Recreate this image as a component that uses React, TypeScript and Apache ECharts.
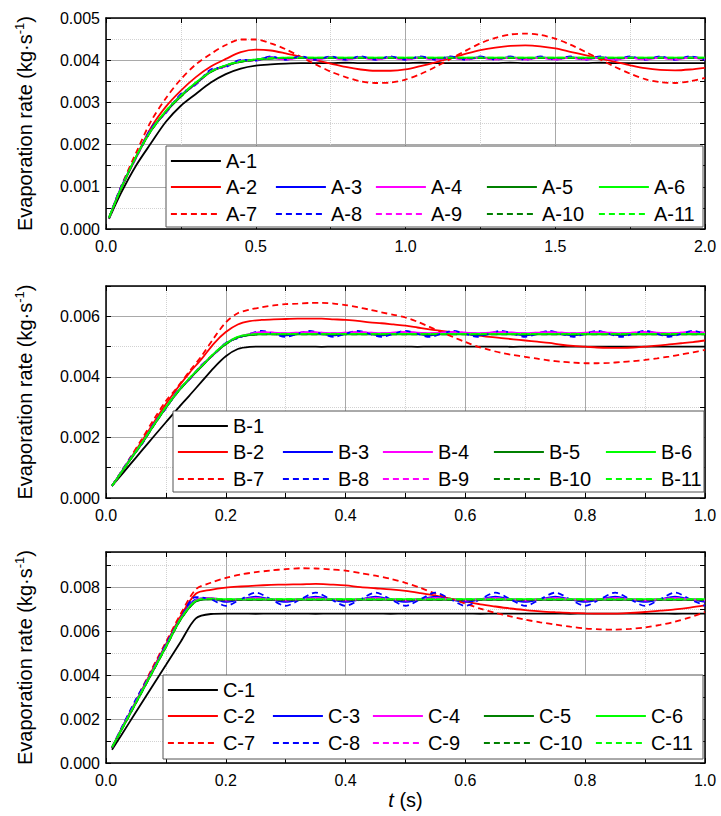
import React, { useEffect, useRef } from 'react';
import * as echarts from 'echarts';

const FONT = "'Liberation Sans', Arial, Helvetica, sans-serif";

// ---------------- Panel A (0–2 s) ----------------
const tA = [0.01,0.05,0.1,0.15,0.2,0.25,0.3,0.35,0.4,0.45,0.5,0.55,0.6,0.65,0.7,0.75,0.8,0.85,0.9,0.95,1.0,1.05,1.1,1.15,1.2,1.25,1.3,1.35,1.4,1.45,1.5,1.55,1.6,1.65,1.7,1.75,1.8,1.85,1.9,1.95,2.0];
const a1 = [0.00024,0.00085,0.0015,0.00203,0.00254,0.00292,0.0032,0.00347,0.00367,0.0038,0.00387,0.0039,0.00392,
  0.00393,0.00393,0.00393,0.00394,0.00393,0.00393,0.00393,0.00393,0.00394,0.00393,
  0.00393,0.00393,0.00393,0.00393,0.00394,0.00393,0.00393,0.00393,0.00393,0.00393,
  0.00394,0.00393,0.00393,0.00393,0.00393,0.00393,0.00393,0.00393];
const a2 = [0.00026,0.00095,0.0017,0.0024,0.0029,0.00328,0.0036,0.00385,0.00403,0.00419,0.00425,0.00423,0.00416,0.00408,0.004,0.00392,0.00384,0.00378,0.00375,0.00375,0.00378,0.00386,0.00395,0.00405,0.00415,0.00424,0.0043,0.00434,0.00435,0.00433,0.00428,0.0042,0.00412,0.00404,0.00396,0.00388,0.00381,0.00377,0.00376,0.00378,0.00382];
const a3 = [0.00026,0.00098,0.00169,0.00235,0.00277,0.00317,0.00344,0.00375,0.00386,0.00399,0.00401,0.00407,
  0.00403,0.00407,0.00403,0.00407,0.00403,0.00407,0.00403,0.00407,0.00403,0.00407,
  0.00403,0.00407,0.00403,0.00407,0.00403,0.00407,0.00403,0.00407,0.00403,0.00407,
  0.00403,0.00407,0.00403,0.00407,0.00403,0.00407,0.00403,0.00407,0.00403];
const aM = [0.00026,0.00097,0.00168,0.00234,0.00277,0.00316,0.00344,0.00374,0.00386,0.00398,0.004,0.00406,
  0.00402,0.00406,0.00402,0.00406,0.00402,0.00406,0.00402,0.00406,0.00402,0.00406,
  0.00402,0.00406,0.00402,0.00406,0.00402,0.00406,0.00402,0.00406,0.00402,0.00406,
  0.00402,0.00406,0.00402,0.00406,0.00402,0.00406,0.00402,0.00406,0.00402];
const aG = [0.00026,0.00095,0.0017,0.00232,0.00278,0.00314,0.00345,0.00372,0.00387,0.00396,0.00401,0.00404,
  0.00405,0.00405,0.00405,0.00405,0.00405,0.00405,0.00405,0.00405,0.00405,0.00405,
  0.00405,0.00405,0.00405,0.00405,0.00405,0.00405,0.00405,0.00405,0.00405,0.00405,
  0.00405,0.00405,0.00405,0.00405,0.00405,0.00405,0.00405,0.00405,0.00405];
const aL = [0.00027,0.00096,0.00171,0.00233,0.0028,0.00316,0.00347,0.00373,0.00388,0.00397,0.00402,0.00405,
  0.00406,0.00406,0.00406,0.00406,0.00406,0.00406,0.00406,0.00406,0.00406,0.00406,
  0.00406,0.00406,0.00406,0.00406,0.00406,0.00406,0.00406,0.00406,0.00406,0.00406,
  0.00406,0.00406,0.00406,0.00406,0.00406,0.00406,0.00406,0.00406,0.00406];
const a7 = [0.00026,0.001,0.0018,0.00255,0.0031,0.00355,0.0039,0.00415,0.00436,0.00449,0.00449,0.0044,0.00426,0.00408,0.0039,0.00373,0.0036,0.0035,0.00346,0.00347,0.00354,0.00367,0.00384,0.00403,0.00422,0.0044,0.00453,0.00461,0.00463,0.0046,0.00451,0.00437,0.0042,0.00402,0.00384,0.00368,0.00355,0.00348,0.00346,0.0035,0.00358];
const a8 = [0.00026,0.001,0.00168,0.00238,0.00275,0.0032,0.00342,0.00378,0.00384,0.00401,0.00399,0.00409,
  0.00401,0.00409,0.00401,0.00409,0.00401,0.00409,0.00401,0.00409,0.00401,0.00409,
  0.00401,0.00409,0.00401,0.00409,0.00401,0.00409,0.00401,0.00409,0.00401,0.00409,
  0.00401,0.00409,0.00401,0.00409,0.00401,0.00409,0.00401,0.00409,0.00401];

// ---------------- Panel B (0–1 s) ----------------
const tB = [0.01,0.02,0.04,0.06,0.08,0.1,0.12,0.14,0.16,0.18,0.2,0.22,0.24,0.26,0.28,0.3,0.32,0.34,0.36,0.38,0.4,0.42,0.44,0.46,0.48,0.5,0.52,0.54,0.56,0.58,0.6,0.62,0.64,0.66,0.68,0.7,0.72,0.74,0.76,0.78,0.8,0.82,0.84,0.86,0.88,0.9,0.92,0.94,0.96,0.98,1.0];
const b1 = [0.0004,0.00063,0.0011,0.00157,0.00204,0.0025,0.00296,0.0034,0.00385,0.0043,0.00468,0.00492,0.00499,0.005,
  0.005,0.005,0.005,0.005,0.00499,0.005,0.005,0.005,0.005,0.005,
  0.005,0.005,0.00499,0.005,0.005,0.005,0.005,0.005,0.005,0.005,
  0.00499,0.005,0.005,0.005,0.005,0.005,0.005,0.005,0.005,0.005,
  0.005,0.005,0.005,0.005,0.005,0.005,0.005];
const b2 = [0.0004,0.00068,0.00128,0.00188,0.0025,0.0031,0.00365,0.00415,0.0046,0.0051,0.00548,0.00573,0.00584,0.00588,0.0059,0.00591,0.00592,0.00592,0.00592,0.0059,0.00588,0.00585,0.0058,0.00577,0.00573,0.00569,0.00563,0.00557,0.00552,0.00547,0.00542,0.00537,0.00532,0.00528,0.00524,0.0052,0.00516,0.00512,0.00506,0.00502,0.005,0.00497,0.00496,0.00496,0.00497,0.005,0.00503,0.00507,0.00511,0.00515,0.0052];
const b3 = [0.0004,0.00069,0.00127,0.0018,0.00243,0.00298,0.00352,0.00394,0.00437,0.00475,0.0051,0.0053,0.0054,
  0.00547,0.00542,0.00537,0.00542,0.00547,0.00542,0.00537,0.00542,0.00547,0.00542,0.00537,0.00542,
  0.00547,0.00542,0.00537,0.00542,0.00547,0.00542,0.00537,0.00542,0.00547,0.00542,0.00537,0.00542,
  0.00547,0.00542,0.00537,0.00542,0.00547,0.00542,0.00537,0.00542,0.00547,0.00542,0.00537,0.00542,
  0.00547,0.00542];
const bM = [0.0004,0.00069,0.00127,0.0018,0.00243,0.00298,0.00353,0.00394,0.00438,0.00474,0.0051,0.0053,0.00542,
  0.00548,0.00546,0.00544,0.00546,0.00548,0.00546,0.00544,0.00546,0.00548,0.00546,0.00544,0.00546,
  0.00548,0.00546,0.00544,0.00546,0.00548,0.00546,0.00544,0.00546,0.00548,0.00546,0.00544,0.00546,
  0.00548,0.00546,0.00544,0.00546,0.00548,0.00546,0.00544,0.00546,0.00548,0.00546,0.00544,0.00546,
  0.00548,0.00546];
const bG = [0.0004,0.00068,0.00125,0.0018,0.0024,0.00298,0.0035,0.00395,0.00435,0.00475,0.00508,0.0053,0.00538,0.0054,
  0.0054,0.0054,0.0054,0.0054,0.0054,0.0054,0.0054,0.0054,0.0054,0.0054,
  0.0054,0.0054,0.0054,0.0054,0.0054,0.0054,0.0054,0.0054,0.0054,0.0054,
  0.0054,0.0054,0.0054,0.0054,0.0054,0.0054,0.0054,0.0054,0.0054,0.0054,
  0.0054,0.0054,0.0054,0.0054,0.0054,0.0054,0.0054];
const bL = [0.0004,0.00069,0.00126,0.00182,0.00242,0.003,0.00352,0.00397,0.00437,0.00477,0.0051,0.00532,0.0054,0.00542,
  0.00542,0.00542,0.00542,0.00542,0.00542,0.00542,0.00542,0.00542,0.00542,0.00542,
  0.00542,0.00542,0.00542,0.00542,0.00542,0.00542,0.00542,0.00542,0.00542,0.00542,
  0.00542,0.00542,0.00542,0.00542,0.00542,0.00542,0.00542,0.00542,0.00542,0.00542,
  0.00542,0.00542,0.00542,0.00542,0.00542,0.00542,0.00542];
const b7 = [0.0004,0.0007,0.00132,0.00195,0.0026,0.0032,0.00368,0.0042,0.0047,0.00528,0.0058,0.0061,0.00622,0.0063,0.00636,0.0064,0.00642,0.00644,0.00644,0.00642,0.00637,0.0063,0.00622,0.00613,0.00605,0.00596,0.00582,0.00565,0.00548,0.00531,0.00515,0.005,0.00489,0.00479,0.00472,0.00466,0.0046,0.00454,0.0045,0.00447,0.00445,0.00445,0.00446,0.00449,0.00452,0.00456,0.00461,0.00467,0.00474,0.00481,0.00489];
const b8 = [0.0004,0.0007,0.0013,0.00178,0.00246,0.00296,0.00355,0.00393,0.0044,0.00474,0.00512,0.00528,0.00542,
  0.00552,0.00542,0.00532,0.00542,0.00552,0.00542,0.00532,0.00542,0.00552,0.00542,0.00532,0.00542,
  0.00552,0.00542,0.00532,0.00542,0.00552,0.00542,0.00532,0.00542,0.00552,0.00542,0.00532,0.00542,
  0.00552,0.00542,0.00532,0.00542,0.00552,0.00542,0.00532,0.00542,0.00552,0.00542,0.00532,0.00542,
  0.00552,0.00542];

// ---------------- Panel C (0–1 s) ----------------
const tC = [0.01,0.025,0.05,0.075,0.1,0.125,0.15,0.175,0.2,0.225,0.25,0.275,0.3,0.325,0.35,0.375,0.4,0.425,0.45,0.475,0.5,0.525,0.55,0.575,0.6,0.625,0.65,0.675,0.7,0.725,0.75,0.775,0.8,0.825,0.85,0.875,0.9,0.925,0.95,0.975,1.0];
const c1 = [0.0006,0.00124,0.00232,0.00339,0.00446,0.00553,0.00658,0.00678,
  0.0068,0.0068,0.00679,0.0068,0.0068,0.0068,0.00679,0.0068,0.0068,0.0068,0.0068,
  0.00679,0.0068,0.0068,0.0068,0.0068,0.0068,0.00679,0.0068,0.0068,0.0068,0.0068,
  0.0068,0.00679,0.0068,0.0068,0.0068,0.0068,0.0068,0.0068,0.00679,0.0068,0.0068];
const c2 = [0.0007,0.0015,0.0028,0.00412,0.0054,0.0067,0.0077,0.00788,0.00798,0.00803,0.00807,0.0081,0.00812,0.00813,0.00815,0.00812,0.00808,0.008,0.00795,0.0079,0.00783,0.00773,0.00762,0.00748,0.00735,0.00722,0.00712,0.00703,0.00696,0.0069,0.00686,0.00683,0.00681,0.0068,0.0068,0.00683,0.00687,0.00693,0.00699,0.00707,0.00717];
const c3 = [0.0007,0.00152,0.0028,0.00405,0.00535,0.0066,0.00745,0.0075,
  0.00733,0.00745,0.00757,0.00745,0.00733,0.00745,0.00757,0.00745,
  0.00733,0.00745,0.00757,0.00745,0.00733,0.00745,0.00757,0.00745,
  0.00733,0.00745,0.00757,0.00745,0.00733,0.00745,0.00757,0.00745,
  0.00733,0.00745,0.00757,0.00745,0.00733,0.00745,0.00757,0.00745,
  0.00733];
const cM = [0.0007,0.0015,0.00278,0.00405,0.00532,0.00658,0.0074,0.0075,
  0.0074,0.00745,0.0075,0.00745,0.0074,0.00745,0.0075,0.00745,
  0.0074,0.00745,0.0075,0.00745,0.0074,0.00745,0.0075,0.00745,
  0.0074,0.00745,0.0075,0.00745,0.0074,0.00745,0.0075,0.00745,
  0.0074,0.00745,0.0075,0.00745,0.0074,0.00745,0.0075,0.00745,
  0.0074];
const cG = [0.0007,0.00146,0.00273,0.004,0.00527,0.00654,0.00735,0.00745,
  0.00742,0.00742,0.00742,0.00742,0.00742,0.00742,0.00742,0.00742,0.00742,0.00742,0.00742,
  0.00742,0.00742,0.00742,0.00742,0.00742,0.00742,0.00742,0.00742,0.00742,0.00742,0.00742,
  0.00742,0.00742,0.00742,0.00742,0.00742,0.00742,0.00742,0.00742,0.00742,0.00742,0.00742];
const cL = [0.00072,0.00148,0.00276,0.00403,0.0053,0.00657,0.00738,0.00748,
  0.00746,0.00746,0.00746,0.00746,0.00746,0.00746,0.00746,0.00746,0.00746,0.00746,0.00746,
  0.00746,0.00746,0.00746,0.00746,0.00746,0.00746,0.00746,0.00746,0.00746,0.00746,0.00746,
  0.00746,0.00746,0.00746,0.00746,0.00746,0.00746,0.00746,0.00746,0.00746,0.00746,0.00746];
const c7 = [0.0007,0.00152,0.00285,0.0042,0.0055,0.0068,0.0079,0.0082,0.00842,0.00858,0.00868,0.00876,0.00882,0.00886,0.00885,0.00881,0.00875,0.00864,0.00852,0.00838,0.0082,0.00797,0.0077,0.00748,0.00725,0.00702,0.00683,0.00667,0.00652,0.0064,0.0063,0.0062,0.00612,0.00608,0.00607,0.0061,0.00617,0.00628,0.00643,0.00663,0.00687];
const c8 = [0.0007,0.00155,0.0029,0.0041,0.0054,0.0066,0.00755,0.00745,
  0.00715,0.00745,0.00775,0.00745,0.00715,0.00745,0.00775,0.00745,
  0.00715,0.00745,0.00775,0.00745,0.00715,0.00745,0.00775,0.00745,
  0.00715,0.00745,0.00775,0.00745,0.00715,0.00745,0.00775,0.00745,
  0.00715,0.00745,0.00775,0.00745,0.00715,0.00745,0.00775,0.00745,
  0.00715];

// tick labels
const xTicksA = [0, 0.5, 1.0, 1.5, 2.0];
const xTicksBC = [0, 0.2, 0.4, 0.6, 0.8, 1.0];

const STYLES: { color: string; type: any }[] = [
  { color: '#000000', type: 'solid' },
  { color: '#ff0000', type: 'solid' },
  { color: '#0000ff', type: 'solid' },
  { color: '#ff00ff', type: 'solid' },
  { color: '#008000', type: 'solid' },
  { color: '#00ff00', type: 'solid' },
  { color: '#ff0000', type: [6, 4] },
  { color: '#0000ff', type: [6, 4] },
  { color: '#ff00ff', type: [6, 4] },
  { color: '#008000', type: [6, 4] },
  { color: '#00ff00', type: [6, 4] },
];

const COLS = [4, 109, 209, 320, 432];
const ROWS = [15, 41, 68];

const PANELS = [
  { prefix: 'A', t: tA, data: [a1, a2, a3, aM, aG, aL, a7, a8, aM, aG, aL], xTicks: xTicksA,
    xMax: 2, xMajor: 0.5, yMax: 0.005, yMajor: 0.001, yMinor: 0.0005, top: 18, height: 211,
    box: { x: 166, y: 146, w: 537, h: 81 } },
  { prefix: 'B', t: tB, data: [b1, b2, b3, bM, bG, bL, b7, b8, bM, bG, bL], xTicks: xTicksBC,
    xMax: 1, xMajor: 0.2, yMax: 0.007, yMajor: 0.002, yMinor: 0.001, top: 286, height: 212,
    box: { x: 173, y: 411, w: 531, h: 81 } },
  { prefix: 'C', t: tC, data: [c1, c2, c3, cM, cG, cL, c7, c8, cM, cG, cL], xTicks: xTicksBC,
    xMax: 1, xMajor: 0.2, yMax: 0.0096, yMajor: 0.002, yMinor: 0.001, top: 552, height: 211,
    box: { x: 163, y: 675, w: 540, h: 84 } },
];

function buildOption() {
  const grid: any[] = [];
  const xAxis: any[] = [];
  const yAxis: any[] = [];
  const series: any[] = [];
  const legend: any[] = [];
  const graphic: any[] = [];

  PANELS.forEach((p, i) => {
    grid.push({ left: 106, right: 16, top: p.top, height: p.height, containLabel: false });
    const isLast = i === PANELS.length - 1;
    xAxis.push({
      type: 'value', gridIndex: i, position: 'bottom', min: 0, max: p.xMax, interval: p.xMajor,
      axisLine: { show: true, onZero: false, lineStyle: { color: '#000', width: 1.5 } },
      axisTick: { show: true, inside: true, length: 5, lineStyle: { color: '#000', width: 1 } },
      minorTick: { show: true, splitNumber: 2, length: 5, lineStyle: { color: '#000', width: 1 } },
      axisLabel: {
        color: '#000', fontSize: 16, fontFamily: FONT, margin: 9,
        formatter: (v: number) => (p.xTicks.some((tk) => Math.abs(tk - v) < 1e-9) ? v.toFixed(1) : ''),
      },
      splitLine: { show: true, lineStyle: { color: '#a9a9a9', width: 1 } },
      minorSplitLine: { show: true, lineStyle: { color: '#d2d2d2', width: 1, type: 'dotted' } },
      name: isLast ? '{i|t} (s)' : '',
      nameLocation: 'middle', nameGap: 27,
      nameTextStyle: { color: '#000', fontSize: 20, fontFamily: FONT,
        rich: { i: { fontStyle: 'italic', fontSize: 20, fontFamily: FONT, color: '#000' } } },
    });
    xAxis.push({
      type: 'value', gridIndex: i, position: 'top', min: 0, max: p.xMax, interval: p.xMajor,
      axisLine: { show: true, onZero: false, lineStyle: { color: '#000', width: 1.5 } },
      axisTick: { show: true, inside: true, length: 5, lineStyle: { color: '#000', width: 1 } },
      minorTick: { show: true, splitNumber: 2, length: 5, lineStyle: { color: '#000', width: 1 } },
      axisLabel: { show: false }, splitLine: { show: false },
    });
    yAxis.push({
      type: 'value', gridIndex: i, position: 'left', min: 0, max: p.yMax, interval: p.yMinor,
      axisLine: { show: true, onZero: false, lineStyle: { color: '#000', width: 1.5 } },
      axisTick: { show: true, inside: true, length: 5, lineStyle: { color: '#000', width: 1 } },
      axisLabel: {
        color: '#000', fontSize: 16, fontFamily: FONT, margin: 6,
        formatter: (v: number) => {
          const r = v / p.yMajor;
          return Math.abs(r - Math.round(r)) < 1e-6 ? v.toFixed(3) : '';
        },
      },
      splitLine: { show: true, lineStyle: { color: '#d2d2d2', width: 1, type: 'dotted' } },
      name: '{a|Evaporation rate (kg·s}{b|-1}{a|)}',
      nameLocation: 'middle', nameRotate: 90, nameGap: 69,
      nameTextStyle: {
        color: '#000', fontFamily: FONT, fontSize: 20,
        rich: {
          a: { fontSize: 20, fontFamily: FONT, color: '#000', lineHeight: 24 },
          b: { fontSize: 13, fontFamily: FONT, color: '#000', verticalAlign: 'top', lineHeight: 13 },
        },
      },
    });
    yAxis.push({
      type: 'value', gridIndex: i, position: 'right', min: 0, max: p.yMax, interval: p.yMinor,
      axisLine: { show: true, onZero: false, lineStyle: { color: '#000', width: 1.5 } },
      axisTick: { show: true, inside: true, length: 5, lineStyle: { color: '#000', width: 1 } },
      axisLabel: { show: false }, splitLine: { show: false },
    });
    yAxis.push({
      type: 'value', gridIndex: i, position: 'right', min: 0, max: p.yMax, interval: p.yMajor,
      axisLine: { show: false }, axisTick: { show: false }, axisLabel: { show: false },
      splitLine: { show: true, lineStyle: { color: '#a9a9a9', width: 1 } },
    });

    graphic.push({
      type: 'rect', z: 5,
      shape: { x: p.box.x, y: p.box.y, width: p.box.w, height: p.box.h },
      style: { fill: '#ffffff', stroke: '#555555', lineWidth: 1 },
    });

    p.data.forEach((vals, j) => {
      const name = `${p.prefix}-${j + 1}`;
      const st = STYLES[j];
      series.push({
        type: 'line', name, xAxisIndex: 2 * i, yAxisIndex: 3 * i,
        data: p.t.map((tt, k) => [tt, vals[k]]),
        showSymbol: false, symbol: 'none', smooth: 0.3,
        lineStyle: { color: st.color, width: 1.8, type: st.type },
        itemStyle: { color: st.color },
        z: 2,
      });
      const row = j === 0 ? 0 : j <= 5 ? 1 : 2;
      const col = j === 0 ? 0 : j <= 5 ? j - 1 : j - 6;
      legend.push({
        data: [name], selectedMode: false, orient: 'horizontal', padding: 0, itemGap: 0,
        left: p.box.x + COLS[col], top: p.box.y + ROWS[row] - 10,
        itemWidth: 50, itemHeight: 12, z: 10,
        itemStyle: { color: 'rgba(0,0,0,0)', borderColor: 'rgba(0,0,0,0)', borderWidth: 0, opacity: 0 },
        lineStyle: { width: 1.8 },
        textStyle: { color: '#000', fontSize: 20, fontFamily: FONT },
      });
    });
  });

  return {
    animation: false,
    backgroundColor: '#ffffff',
    textStyle: { fontFamily: FONT },
    grid, xAxis, yAxis, series, legend, graphic,
  };
}

export default function App() {
  const ref = useRef<HTMLDivElement>(null);
  useEffect(() => {
    if (!ref.current) return;
    const chart = echarts.init(ref.current, null, { renderer: 'svg' });
    chart.setOption(buildOption() as any);
    return () => chart.dispose();
  }, []);
  return (
    <div
      ref={ref}
      style={{ position: 'absolute', left: 0, top: 0, width: 721, height: 816 }}
    />
  );
}
